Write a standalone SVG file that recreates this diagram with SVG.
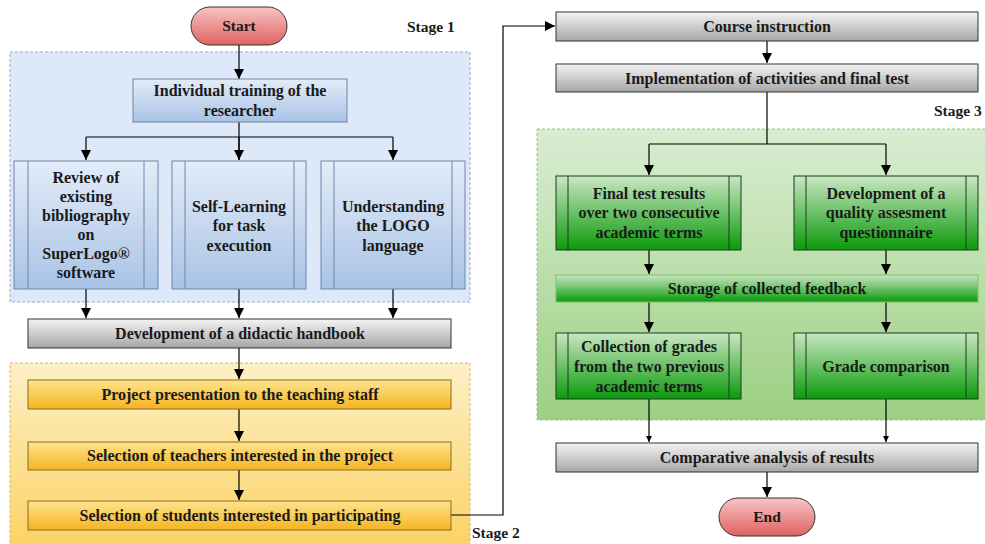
<svg xmlns="http://www.w3.org/2000/svg" width="985" height="544" viewBox="0 0 985 544">
<style>
text{font-family:"Liberation Serif","Times New Roman",serif;font-weight:bold;font-size:16px;fill:#1a1a1a;text-anchor:middle}
.st{font-size:15.5px;text-anchor:start}
.blue{fill:url(#gBlue);stroke:#6f86a8;stroke-width:1}
.gray{fill:url(#gGray);stroke:#333;stroke-width:1}
.org{fill:url(#gOrg);stroke:#8a6a20;stroke-width:1}
.grn{fill:url(#gGrn);stroke:#1f3a1f;stroke-width:1}
.red{fill:url(#gRed);stroke:#333;stroke-width:1}
.inb{stroke:#6f86a8;stroke-width:1}
.ing{stroke:#1f3a1f;stroke-width:1}
.c{fill:none;stroke:#000;stroke-width:1.2}
</style>
<defs>
<linearGradient id="gBlue" x1="0" y1="0" x2="0" y2="1"><stop offset="0" stop-color="#e3ecf8"/><stop offset="1" stop-color="#a9c3e6"/></linearGradient>
<linearGradient id="gGray" x1="0" y1="0" x2="0" y2="1"><stop offset="0" stop-color="#f4f4f4"/><stop offset="1" stop-color="#a6a6a6"/></linearGradient>
<linearGradient id="gOrg" x1="0" y1="0" x2="0" y2="1"><stop offset="0" stop-color="#fde48e"/><stop offset="1" stop-color="#f6b421"/></linearGradient>
<linearGradient id="gGrn" x1="0" y1="0" x2="0" y2="1"><stop offset="0" stop-color="#c9e7c2"/><stop offset="1" stop-color="#0b9a0b"/></linearGradient>
<linearGradient id="gRed" x1="0" y1="0" x2="0" y2="1"><stop offset="0" stop-color="#f7c4c4"/><stop offset="1" stop-color="#e06262"/></linearGradient>
<linearGradient id="gS2" x1="0" y1="0" x2="0" y2="1"><stop offset="0" stop-color="#fdf0c6"/><stop offset="1" stop-color="#fbd162"/></linearGradient>
<linearGradient id="gS3" x1="0" y1="0" x2="0" y2="1"><stop offset="0" stop-color="#d9edd2"/><stop offset="1" stop-color="#9ccf82"/></linearGradient>
<marker id="ah" viewBox="0 0 10 10" refX="10" refY="5" markerWidth="10" markerHeight="10" markerUnits="userSpaceOnUse" orient="auto"><path d="M0,0 L10,5 L0,10 z" fill="#000"/></marker>
<marker id="as" viewBox="0 0 10 10" refX="10" refY="5" markerWidth="6" markerHeight="6" markerUnits="userSpaceOnUse" orient="auto"><path d="M0,0 L10,5 L0,10 z" fill="#000"/></marker>
</defs>
<rect width="985" height="544" fill="#fff"/>

<g id="stage1">
<rect x="10" y="52" width="460" height="250" fill="#dde9f8" stroke="#9aaabb" stroke-dasharray="3,2"/>
<text class="st" x="407" y="32">Stage 1</text>
</g>
<g id="stage2">
<rect x="10" y="363" width="460" height="190" fill="url(#gS2)" stroke="#d8b860" stroke-dasharray="3,2"/>
<text class="st" x="472" y="538">Stage 2</text>
</g>
<g id="stage3">
<rect x="537" y="129" width="460" height="291" fill="url(#gS3)" stroke="#9cbf90" stroke-dasharray="3,2"/>
<text class="st" x="934" y="116">Stage 3</text>
</g>

<g id="connectors">
<path class="c" d="M239,45 V79" marker-end="url(#ah)"/>
<path class="c" d="M239,122 V160"/>
<path class="c" d="M86,137 H393"/>
<path class="c" d="M86,137 V160" marker-end="url(#ah)"/>
<path class="c" d="M239,137 V160" marker-end="url(#ah)"/>
<path class="c" d="M393,137 V160" marker-end="url(#ah)"/>
<path class="c" d="M86,289 V318" marker-end="url(#ah)"/>
<path class="c" d="M239,289 V318" marker-end="url(#ah)"/>
<path class="c" d="M393,289 V318" marker-end="url(#ah)"/>
<path class="c" d="M239,348 V379" marker-end="url(#ah)"/>
<path class="c" d="M239,409 V441" marker-end="url(#ah)"/>
<path class="c" d="M239,470 V500" marker-end="url(#ah)"/>
<path class="c" d="M451,515 H503 V26 H555" marker-end="url(#ah)"/>
<path class="c" d="M767,41 V63" marker-end="url(#ah)"/>
<path class="c" d="M767,92 V144"/>
<path class="c" d="M649,144 H886"/>
<path class="c" d="M649,144 V175" marker-end="url(#ah)"/>
<path class="c" d="M886,144 V175" marker-end="url(#ah)"/>
<path class="c" d="M649,250 V274" marker-end="url(#ah)"/>
<path class="c" d="M886,250 V274" marker-end="url(#ah)"/>
<path class="c" d="M649,302 V332" marker-end="url(#ah)"/>
<path class="c" d="M886,302 V332" marker-end="url(#ah)"/>
<path class="c" d="M649,399 V442" marker-end="url(#as)"/>
<path class="c" d="M886,399 V442" marker-end="url(#as)"/>
<path class="c" d="M767,472 V497" marker-end="url(#ah)"/>
</g>

<g id="start">
<rect class="red" x="191" y="7" width="96" height="38" rx="19"/>
<text x="239" y="31" style="font-size:15.5px">Start</text>
</g>
<g id="individual">
<rect class="blue" x="133" y="79" width="214" height="43"/>
<text x="240" y="96">Individual training of the</text>
<text x="240" y="116">researcher</text>
</g>
<g id="review">
<rect class="blue" x="14" y="161" width="144" height="128"/>
<path class="inb" d="M28,161 V289 M144,161 V289"/>
<text x="86" y="183">Review of</text>
<text x="86" y="202">existing</text>
<text x="86" y="221">bibliography</text>
<text x="86" y="240">on</text>
<text x="86" y="259">SuperLogo®</text>
<text x="86" y="278">software</text>
</g>
<g id="selflearning">
<rect class="blue" x="172" y="161" width="134" height="128"/>
<path class="inb" d="M185,161 V289 M294,161 V289"/>
<text x="239" y="212">Self-Learning</text>
<text x="239" y="231">for task</text>
<text x="239" y="251">execution</text>
</g>
<g id="understanding">
<rect class="blue" x="321" y="161" width="144" height="128"/>
<path class="inb" d="M334,161 V289 M452,161 V289"/>
<text x="393" y="212">Understanding</text>
<text x="393" y="231">the LOGO</text>
<text x="393" y="251">language</text>
</g>
<g id="handbook">
<rect class="gray" x="28" y="319" width="423" height="29"/>
<text x="240" y="339">Development of a didactic handbook</text>
</g>
<g id="presentation">
<rect class="org" x="28" y="380" width="423" height="29"/>
<text x="240" y="400">Project presentation to the teaching staff</text>
</g>
<g id="teachers">
<rect class="org" x="28" y="442" width="423" height="28"/>
<text x="240" y="461">Selection of teachers interested in the project</text>
</g>
<g id="students">
<rect class="org" x="28" y="501" width="423" height="29"/>
<text x="240" y="521">Selection of students interested in participating</text>
</g>
<g id="course">
<rect class="gray" x="556" y="12" width="422" height="29"/>
<text x="767" y="32">Course instruction</text>
</g>
<g id="implementation">
<rect class="gray" x="556" y="64" width="422" height="28"/>
<text x="767" y="84">Implementation of activities and final test</text>
</g>
<g id="finaltest">
<rect class="grn" x="556" y="176" width="185" height="74"/>
<path class="ing" d="M568,176 V250 M729,176 V250"/>
<text x="649" y="199">Final test results</text>
<text x="649" y="218">over two consecutive</text>
<text x="649" y="238">academic terms</text>
</g>
<g id="questionnaire">
<rect class="grn" x="794" y="176" width="184" height="74"/>
<path class="ing" d="M806,176 V250 M966,176 V250"/>
<text x="886" y="199">Development of a</text>
<text x="886" y="218">quality assesment</text>
<text x="886" y="238">questionnaire</text>
</g>
<g id="storage">
<rect x="556" y="275" width="422" height="27" fill="url(#gGrn)" stroke="#7fbf70"/>
<text x="767" y="294">Storage of collected feedback</text>
</g>
<g id="collection">
<rect class="grn" x="556" y="333" width="185" height="66"/>
<path class="ing" d="M568,333 V399 M729,333 V399"/>
<text x="649" y="352">Collection of grades</text>
<text x="649" y="372">from the two previous</text>
<text x="649" y="392">academic terms</text>
</g>
<g id="gradecomp">
<rect class="grn" x="794" y="333" width="184" height="66"/>
<path class="ing" d="M806,333 V399 M966,333 V399"/>
<text x="886" y="372">Grade comparison</text>
</g>
<g id="comparative">
<rect class="gray" x="556" y="443" width="422" height="29"/>
<text x="767" y="463">Comparative analysis of results</text>
</g>
<g id="end">
<rect class="red" x="719" y="498" width="96" height="38" rx="19"/>
<text x="767" y="522" style="font-size:15.5px">End</text>
</g>
</svg>
